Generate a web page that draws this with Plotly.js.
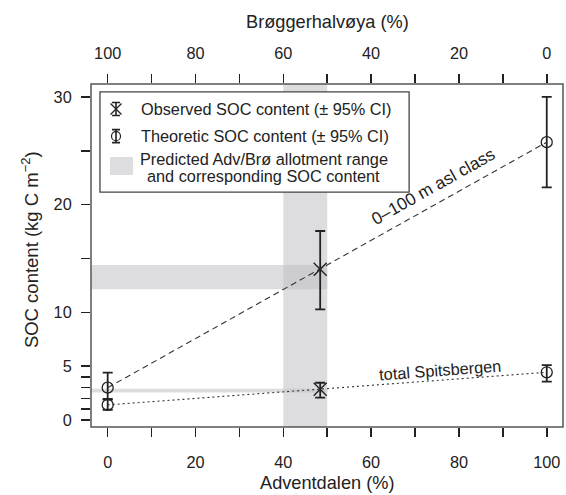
<!DOCTYPE html>
<html>
<head>
<meta charset="utf-8">
<script src="https://cdn.plot.ly/plotly-3.0.1.min.js"></script>
<style>html,body{margin:0;padding:0;background:#fff;}#chart{width:566px;height:495px;}</style>
</head>
<body>
<div id="chart"></div>
<script>
// ---- data ----
const endX = [0, 100];                    // Adventdalen (%) of theoretic end members
const theo0100 = [3.0, 25.8];             // theoretic SOC, 0-100 m asl class
const theo0100Plus = [1.4, 4.2];
const theo0100Minus = [1.1, 4.2];
const theoTotal = [1.4, 4.43];            // theoretic SOC, total Spitsbergen
const theoTotalPlus = [0.55, 0.67];
const theoTotalMinus = [0.45, 0.87];
const obsX = [48.4, 48.4];                // observed allotment
const obsY = [14.0, 2.85];                // observed SOC (0-100 m, total)
const obsPlus = [3.55, 0.61];
const obsMinus = [3.72, 0.78];
const allotRange = [40, 50];              // predicted Adv/Brø allotment range
const socRange0100 = [12.15, 14.4];
const socRangeTotal = [2.55, 2.9];
const xTickVals = [0,10,20,30,40,50,60,70,80,90,100];
const xTickText = ['0','','20','','40','','60','','80','','100'];
const topTickVals = [100,90,80,70,60,50,40,30,20,10,0];
const topTickText = ['100','','80','','60','','40','','20','','0'];
const yTickVals = [0,1,2,3,4,5,10,15,20,25,30];
const yTickText = ['0','','','','','5','10','','20','','30'];
const legendLabels = ['Observed SOC content (\u00b1 95% CI)', 'Theoretic SOC content (\u00b1 95% CI)',
                      'Predicted Adv/Br\u00f8 allotment range', 'and corresponding SOC content'];
const lineLabels = ['0\u2013100 m asl class', 'total Spitsbergen'];

// ---- layout constants ----
const FONT = 'Liberation Sans, Arial, Helvetica, sans-serif';
const INK = '#222';
const xRange = [-3.8, 103.7];
const yRange = [-0.65, 31.2];
const band = 'rgba(188,188,194,0.5)';

const traces = [
  { x: endX, y: theo0100, mode: 'lines', line: {color: '#333', width: 1.1, dash: '6px,4px'}, hoverinfo: 'skip', showlegend: false },
  { x: endX, y: theoTotal, mode: 'lines', line: {color: '#333', width: 1.1, dash: '2px,3px'}, hoverinfo: 'skip', showlegend: false },
  { x: endX.concat(endX), y: theo0100.concat(theoTotal), mode: 'markers',
    marker: {symbol: 'circle-open', size: 11, color: INK, line: {width: 1.3, color: INK}},
    error_y: {type: 'data', symmetric: false, array: theo0100Plus.concat(theoTotalPlus),
              arrayminus: theo0100Minus.concat(theoTotalMinus), color: INK, thickness: 1.8, width: 5},
    showlegend: false },
  { x: obsX, y: obsY, mode: 'markers',
    marker: {symbol: 'x-thin-open', size: 13, color: INK, line: {width: 1.4, color: INK}},
    error_y: {type: 'data', symmetric: false, array: obsPlus, arrayminus: obsMinus, color: INK, thickness: 1.8, width: 5},
    showlegend: false },
  // top axis carrier
  { x: [], y: [], xaxis: 'x2', yaxis: 'y', showlegend: false, hoverinfo: 'skip' },
  // legend symbols (domain-space overlay axes)
  { x: [0.053], y: [0.927], xaxis: 'x3', yaxis: 'y3', mode: 'markers',
    marker: {symbol: 'x-thin-open', size: 11, color: INK, line: {width: 1.3, color: INK}},
    error_y: {type: 'constant', value: 0.019, color: INK, thickness: 1.6, width: 4}, showlegend: false },
  { x: [0.053], y: [0.848], xaxis: 'x3', yaxis: 'y3', mode: 'markers',
    marker: {symbol: 'circle-open', size: 9, color: INK, line: {width: 1.2, color: INK}},
    error_y: {type: 'constant', value: 0.019, color: INK, thickness: 1.6, width: 4}, showlegend: false }
];

const shapes = [
  {type: 'rect', xref: 'x', yref: 'y domain', x0: allotRange[0], x1: allotRange[1], y0: 0, y1: 1, fillcolor: band, line: {width: 0}, layer: 'below'},
  {type: 'rect', xref: 'x', yref: 'y', x0: xRange[0], x1: allotRange[1], y0: socRange0100[0], y1: socRange0100[1], fillcolor: band, line: {width: 0}, layer: 'below'},
  {type: 'rect', xref: 'x', yref: 'y', x0: xRange[0], x1: allotRange[1], y0: socRangeTotal[0], y1: socRangeTotal[1], fillcolor: band, line: {width: 0}, layer: 'below'},
  // legend box
  {type: 'rect', xref: 'x domain', yref: 'y domain', x0: 0.019, x1: 0.674, y0: 0.685, y1: 0.977, fillcolor: '#fff', line: {color: '#444', width: 1.3}, layer: 'below'},
  {type: 'rect', xref: 'x domain', yref: 'y domain', x0: 0.0403, x1: 0.089, y0: 0.7347, y1: 0.7872, fillcolor: 'rgb(222,222,225)', line: {width: 0}, layer: 'below'},
  // plot frame
  {type: 'rect', xref: 'x domain', yref: 'y domain', x0: 0, x1: 1, y0: 0, y1: 1, line: {color: '#555', width: 1.5}, layer: 'above'}
];

const tf = {family: FONT, size: 16.3, color: INK};
const titleFont = {family: FONT, size: 18.2, color: INK};
const annotations = [
  {text: 'Adventdalen (%)', xref: 'paper', yref: 'paper', x: 0.5, y: -0.163, xanchor: 'center', yanchor: 'middle', showarrow: false, font: titleFont},
  {text: 'Br\u00f8ggerhalv\u00f8ya (%)', xref: 'paper', yref: 'paper', x: 0.5, y: 1.180, xanchor: 'center', yanchor: 'middle', showarrow: false, font: titleFont},
  {text: 'SOC content (kg C m<sup>\u22122</sup>)', xref: 'paper', yref: 'paper', x: -0.129, y: 0.516, xanchor: 'center', yanchor: 'middle', textangle: -90, showarrow: false, font: {family: FONT, size: 18.5, color: INK}},
  {text: legendLabels[0], xref: 'paper', yref: 'paper', x: 0.1017, y: 0.927, xanchor: 'left', yanchor: 'middle', showarrow: false, font: tf},
  {text: legendLabels[1], xref: 'paper', yref: 'paper', x: 0.1017, y: 0.848, xanchor: 'left', yanchor: 'middle', showarrow: false, font: tf},
  {text: legendLabels[2], xref: 'paper', yref: 'paper', x: 0.3655, y: 0.781, xanchor: 'center', yanchor: 'middle', showarrow: false, font: tf},
  {text: legendLabels[3], xref: 'paper', yref: 'paper', x: 0.3655, y: 0.731, xanchor: 'center', yanchor: 'middle', showarrow: false, font: tf},
  {text: lineLabels[0], xref: 'x', yref: 'y', x: 74.3, y: 21.7, xanchor: 'center', yanchor: 'middle', textangle: -29.2, showarrow: false, font: {family: FONT, size: 17.3, color: INK}},
  {text: lineLabels[1], xref: 'x', yref: 'y', x: 75.7, y: 4.65, xanchor: 'center', yanchor: 'middle', textangle: -4.2, showarrow: false, font: tf}
];

const axCommon = {showgrid: false, zeroline: false, showline: false, ticks: 'outside', ticklen: 9, tickwidth: 1.5, tickcolor: INK, tickfont: tf, tickmode: 'array', fixedrange: true};

const layout = {
  width: 566, height: 495,
  margin: {l: 91, r: 3, t: 84, b: 68, pad: 0},
  paper_bgcolor: '#fff', plot_bgcolor: 'rgba(0,0,0,0)',
  showlegend: false,
  font: {family: FONT, color: INK},
  xaxis: Object.assign({}, axCommon, {range: xRange, tickvals: xTickVals, ticktext: xTickText, ticklabelstandoff: 11}),
  xaxis2: Object.assign({}, axCommon, {overlaying: 'x', anchor: 'y', side: 'top', range: [100 - xRange[0], 100 - xRange[1]], tickvals: topTickVals, ticktext: topTickText, ticklabelstandoff: 8}),
  yaxis: Object.assign({}, axCommon, {range: yRange, tickvals: yTickVals, ticktext: yTickText, ticklabelstandoff: 6}),
  xaxis3: {overlaying: 'x', anchor: 'y3', range: [0, 1], visible: false, fixedrange: true},
  yaxis3: {overlaying: 'y', anchor: 'x3', range: [0, 1], visible: false, fixedrange: true},
  shapes: shapes,
  annotations: annotations
};

Plotly.newPlot('chart', traces, layout, {staticPlot: true, displayModeBar: false});
</script>
</body>
</html>
